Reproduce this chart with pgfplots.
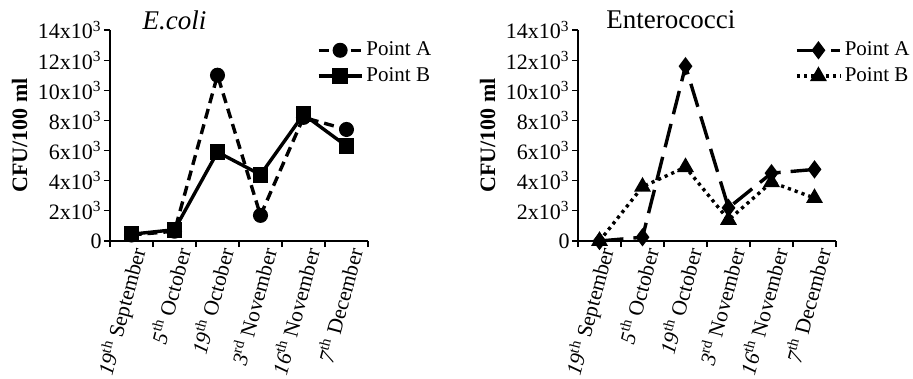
\documentclass[border=0pt]{standalone}
\usepackage{pgfplots}
\pgfplotsset{compat=1.18}
\usepackage{fontspec}
\setmainfont{Liberation Serif}
\pgfplotsset{
  mystyle/.style={
    scale only axis, width=129pt, height=105.5pt,
    axis x line=bottom, axis y line=left,
    axis line style={-, line width=0.6pt},
    xmin=-0.5, xmax=5.5, ymin=0, ymax=14000,
    scaled y ticks=false,
    ytick={0,2000,4000,6000,8000,10000,12000,14000},
    yticklabels={0,2x10\textsuperscript{3},4x10\textsuperscript{3},6x10\textsuperscript{3},8x10\textsuperscript{3},10x10\textsuperscript{3},12x10\textsuperscript{3},14x10\textsuperscript{3}},
    yticklabel style={font=\fontsize{11}{13}\selectfont, inner sep=1pt},
    tick align=outside,
    major tick length=3pt,
    minor tick length=3pt,
    tick style={black, line width=0.6pt},
    xtick={0,1,2,3,4,5},
    xticklabels={\textit{19}\textsuperscript{th} September,\textit{5}\textsuperscript{th} October,\textit{19}\textsuperscript{th} October,\textit{3}\textsuperscript{rd} November,\textit{16}\textsuperscript{th} November,\textit{7}\textsuperscript{th} December},
    xticklabel style={rotate=75, anchor=east, font=\fontsize{10.7}{13}\selectfont, inner sep=1pt, xshift=1.5pt, yshift=-4pt},
    major x tick style={draw=none},
    minor xtick={-0.5,0.5,1.5,2.5,3.5,4.5,5.5},
    minor x tick style={black, line width=0.6pt},
    ylabel={CFU/100 ml},
    ylabel style={font=\bfseries\fontsize{11}{13}\selectfont, at={(axis description cs:-0.35,0.5)}, anchor=center},
    title style={font=\fontsize{13.5}{15}\selectfont, anchor=center, yshift=-1pt},
    legend style={draw=none, fill=none, font=\fontsize{10.5}{12}\selectfont, inner sep=0pt, row sep=1.5pt, nodes={inner sep=1.5pt}},
    legend cell align=left,
    legend image code/.code={\draw[mark repeat=2,mark phase=2,##1] plot coordinates {(0cm,0cm) (0.38cm,0cm) (0.76cm,0cm)};},
    clip=false,
  }
}
\begin{document}
\begin{tikzpicture}
\path[use as bounding box] (-55pt,-69pt) rectangle (401.5pt,120.5pt);
\begin{axis}[mystyle, at={(0pt,0pt)}, anchor=south west,
  title={\textit{E.coli}}, title style={at={(axis description cs:0.25,1)}},
  legend style={at={(axis description cs:0.80,0.96)}, anchor=north west}]
\addplot[black, line width=1.7pt, dash pattern=on 5pt off 3pt, mark=*, mark size=2.9pt, mark options={solid}]
  coordinates {(0,400) (1,650) (2,11000) (3,1700) (4,8200) (5,7400)};
\addlegendentry{Point A}
\addplot[black, line width=1.7pt, mark=square*, mark size=3.1pt, mark options={solid}]
  coordinates {(0,450) (1,750) (2,5900) (3,4400) (4,8400) (5,6300)};
\addlegendentry{Point B}
\end{axis}
\begin{axis}[mystyle, at={(234pt,0pt)}, anchor=south west,
  title={Enterococci}, title style={at={(axis description cs:0.36,1)}},
  legend style={at={(axis description cs:0.84,0.96)}, anchor=north west}]
\addplot[black, line width=1.7pt, dash pattern=on 12pt off 5pt, mark=diamond*, mark size=3.2pt, mark options={solid}]
  coordinates {(0,0) (1,250) (2,11600) (3,2200) (4,4500) (5,4750)};
\addlegendentry{Point A}
\addplot[black, line width=1.7pt, dash pattern=on 1.6pt off 2pt, mark=triangle*, mark size=3.2pt, mark options={solid}]
  coordinates {(0,0) (1,3600) (2,4900) (3,1400) (4,3900) (5,2850)};
\addlegendentry{Point B}
\end{axis}
\end{tikzpicture}
\end{document}
